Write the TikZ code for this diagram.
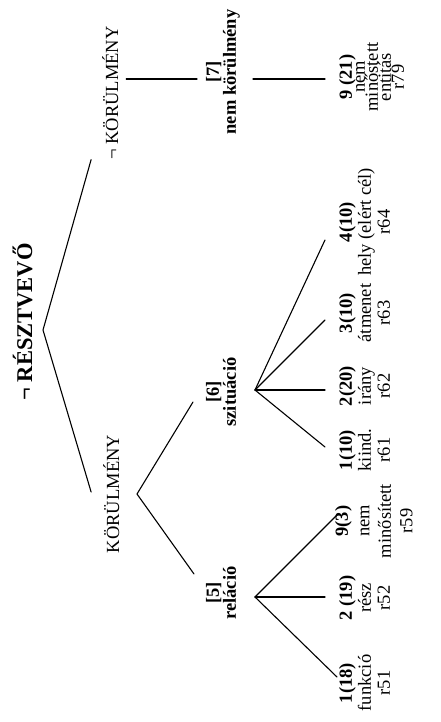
\documentclass[tikz,border=0pt]{standalone}
\usepackage{fontspec}
\setmainfont{Liberation Serif}
\usetikzlibrary{calc}
\newcommand\stk[2]{\vbox{\baselineskip=#1pt\lineskiplimit=-100pt\lineskip=0pt\halign{\hfil##\hfil\cr#2}}}
\begin{document}
\begin{tikzpicture}[x=1pt,y=-1pt,
  txt/.style={rotate=90, inner sep=0pt, outer sep=0pt, font=\fontsize{18.5}{20}\selectfont},
  multi/.style={txt, anchor=north},
  edge/.style={line width=1.1pt, line cap=round}]
\path[fill=white, use as bounding box] (0,0) rectangle (440,722);

% title and first level
\node[txt, anchor=base, font=\fontsize{22.5}{24}\selectfont\bfseries] (T) at (32,322) {¬ RÉSZTVEVŐ};
\node[txt, anchor=base] (NK) at (118,93) {¬ KÖRÜLMÉNY};
\node[txt, anchor=base] (K) at (119,494) {KÖRÜLMÉNY};

% second level
\node[multi, font=\fontsize{18.5}{20}\selectfont\bfseries] (N7) at (206,72) {\stk{17}{[7]\cr nem körülmény\cr}};
\node[multi, font=\fontsize{18.5}{20}\selectfont\bfseries] (N6) at (206,392) {\stk{17}{[6]\cr szituáció\cr}};
\node[multi, font=\fontsize{18.5}{20}\selectfont\bfseries] (N5) at (206,593) {\stk{17}{[5]\cr reláció\cr}};

% leaves
\node[multi] (L79) at (339,77) {\stk{13}{{\bfseries 9 (21)}\cr nem\cr minőstett\cr entitás\cr r79\cr}};
\node[multi] (L64) at (339,222) {\stk{19}{{\bfseries 4(10)}\cr hely (elért cél)\cr r64\cr}};
\node[multi] (L63) at (339,313) {\stk{19}{{\bfseries 3(10)}\cr átmenet\cr r63\cr}};
\node[multi] (L62) at (339,386) {\stk{19}{{\bfseries 2(20)}\cr irány\cr r62\cr}};
\node[multi] (L61) at (339,450) {\stk{19}{{\bfseries 1(10)}\cr kiind.\cr r61\cr}};
\node[multi] (L59) at (335,521) {\stk{21.5}{{\bfseries 9(3)}\cr nem\cr minősített\cr r59\cr}};
\node[multi] (L52) at (339,598) {\stk{19}{{\bfseries 2 (19)}\cr rész\cr r52\cr}};
\node[multi] (L51) at (339,683) {\stk{19}{{\bfseries 1(18)}\cr funkció\cr r51\cr}};

% branching points
\coordinate (R) at (43,330);
\coordinate (AK) at (137,494);
\coordinate (A6) at (255,390);
\coordinate (A5) at (255,597);

% connectors
\draw[edge] ($(NK.north west)+(-11,0)$) -- (R) -- ($(K.north)+(-12,-2)$);
\draw[edge] ($(NK.south)+(8,-14)$) -- ($(N7.north)+(-9,7)$);
\draw[edge] ($(N7.north)+(47,7)$) -- ($(L79.north)+(-14,2)$);
\draw[edge] ($(N6.north)+(-13,10)$) -- (AK) -- ($(N5.north)+(-12,-19)$);
\draw[edge] (A6) -- ($(L61.north)+(-14,-3)$);
\draw[edge] (A6) -- ($(L62.north)+(-14,4)$);
\draw[edge] (A6) -- ($(L63.north)+(-14,7)$);
\draw[edge] (A6) -- ($(L64.north)+(-14,18)$);
\draw[edge] (A5) -- ($(L59.north)+(2,-6)$);
\draw[edge] (A5) -- ($(L52.north)+(-14,-1)$);
\draw[edge] (A5) -- ($(L51.north)+(-2,-6)$);
\end{tikzpicture}
\end{document}
